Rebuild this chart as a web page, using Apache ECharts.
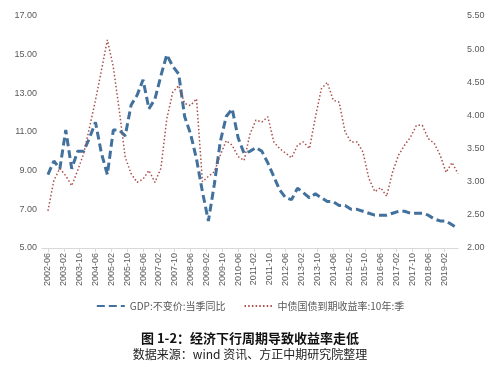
<!DOCTYPE html>
<html>
<head>
<meta charset="utf-8">
<script src="https://cdn.jsdelivr.net/npm/echarts@6/dist/echarts.min.js"></script>
<style>
html,body{margin:0;padding:0;background:#fff;}
#c{width:500px;height:368px;}
</style>
</head>
<body>
<div id="c"></div>
<script>
// Quarterly observations from 2002-06 (Q2) to 2019-09 (Q3)
const gdp = [
  8.8, 9.5, 9.1,
  11.1, 9.1, 10.0, 10.0,
  10.7, 11.5, 9.9, 8.8,
  11.1, 11.1, 10.8, 12.4,
  12.9, 13.7, 12.2, 12.7,
  13.9, 15.0, 14.4, 14.0,
  11.8, 10.9, 9.6, 7.9,
  6.4, 8.3, 10.5, 11.8,
  12.2, 10.7, 9.9, 10.0,
  10.2, 10.0, 9.4, 8.7,
  8.0, 7.6, 7.5, 8.1,
  7.85, 7.6, 7.8, 7.6,
  7.4, 7.4, 7.2, 7.2,
  7.0, 7.0, 6.9, 6.8,
  6.7, 6.7, 6.7, 6.8,
  6.9, 6.9, 6.8, 6.8,
  6.8, 6.7, 6.5, 6.4,
  6.4, 6.2, 6.0
];
const bond10y = [
  2.56, 3.02, 3.20,
  3.09, 2.94, 3.17, 3.42,
  3.82, 4.23, 4.68, 5.14,
  4.73, 4.08, 3.37, 3.12,
  2.99, 3.04, 3.17, 2.99,
  3.20, 3.95, 4.35, 4.45,
  4.18, 4.15, 4.25, 3.00,
  3.08, 3.15, 3.40, 3.62,
  3.55, 3.38, 3.32, 3.72,
  3.93, 3.90, 3.98, 3.60,
  3.50, 3.43, 3.36, 3.55,
  3.60, 3.50, 3.97, 4.40,
  4.50, 4.23, 4.20, 3.75,
  3.60, 3.60, 3.45, 3.05,
  2.85, 2.91, 2.78, 3.15,
  3.40, 3.55, 3.67, 3.85,
  3.85, 3.65, 3.58, 3.40,
  3.14, 3.29, 3.12
];
const seriesNames = ['GDP:不变价:当季同比', '中债国债到期收益率:10年:季'];
const titleText = '图 1-2：经济下行周期导致收益率走低';
const subText = '数据来源：wind 资讯、方正中期研究院整理';
// monthly date axis (starts 3 months before first observation, 2002-06)
const axisStart = [2002, 3];
const leadMonths = 3;
const labelEvery = 8;

const months = [];
const totalMonths = leadMonths + (gdp.length - 1) * 3 + 1;
for (let i = 0; i < totalMonths; i++) {
  const m0 = axisStart[1] - 1 + i;
  const y = axisStart[0] + Math.floor(m0 / 12);
  const m = (m0 % 12) + 1;
  months.push(y + '-' + (m < 10 ? '0' + m : m));
}
function toMonthly(arr) {
  const out = new Array(totalMonths).fill(null);
  arr.forEach((v, k) => { out[leadMonths + 3 * k] = v; });
  return out;
}
const showLabel = (idx) => idx >= leadMonths && (idx - leadMonths) % labelEvery === 0;

const chart = echarts.init(document.getElementById('c'), null, {renderer: 'canvas'});
const txt = '#595959';
const fnt = '"Liberation Sans", Arial, "Noto Sans CJK SC", sans-serif';
const gdpColor = '#41719c';
const bondColor = '#a94f4c';
chart.setOption({
  animation: false,
  backgroundColor: '#fff',
  textStyle: {fontFamily: fnt},
  title: {
    text: titleText,
    subtext: subText,
    left: 'center',
    top: 332,
    itemGap: 3,
    padding: 0,
    textStyle: {fontSize: 13, fontWeight: 'bold', color: '#111', fontFamily: '"Noto Sans CJK SC", sans-serif'},
    subtextStyle: {fontSize: 12, color: '#222', fontFamily: '"Noto Sans CJK SC", sans-serif'}
  },
  legend: {
    top: 296,
    left: 'center',
    itemWidth: 28,
    itemHeight: 10,
    itemGap: 18,
    itemStyle: {opacity: 0},
    textStyle: {fontSize: 10, color: txt, fontFamily: '"Noto Sans CJK SC", sans-serif'},
    data: seriesNames
  },
  grid: {left: 42, right: 42, top: 16, bottom: 120, containLabel: false},
  xAxis: {
    type: 'category',
    data: months,
    boundaryGap: false,
    axisLine: {lineStyle: {color: '#d9d9d9', width: 1}},
    axisTick: {show: true, interval: (i) => showLabel(i), length: 4, lineStyle: {color: '#d9d9d9'}},
    axisLabel: {interval: (i) => showLabel(i), rotate: 90, fontSize: 9, color: txt, margin: 5},
    splitLine: {show: false}
  },
  yAxis: [
    {
      type: 'value', min: 5, max: 17, interval: 2,
      axisLine: {show: false}, axisTick: {show: false}, splitLine: {show: false},
      axisLabel: {fontSize: 9, color: txt, margin: 5, formatter: (v) => v.toFixed(2)}
    },
    {
      type: 'value', min: 2, max: 5.5, interval: 0.5,
      axisLine: {show: false}, axisTick: {show: false}, splitLine: {show: false},
      axisLabel: {fontSize: 9, color: txt, margin: 9, formatter: (v) => v.toFixed(2)}
    }
  ],
  series: [
    {
      name: seriesNames[0], type: 'line', yAxisIndex: 0,
      data: toMonthly(gdp), connectNulls: true, showSymbol: false, symbol: 'none',
      lineStyle: {color: gdpColor, width: 3, type: [8, 4]},
      itemStyle: {color: gdpColor}
    },
    {
      name: seriesNames[1], type: 'line', yAxisIndex: 1,
      data: toMonthly(bond10y), connectNulls: true, showSymbol: false, symbol: 'none',
      lineStyle: {color: bondColor, width: 1.5, type: [1.5, 2.2]},
      itemStyle: {color: bondColor}
    }
  ]
});
</script>
</body>
</html>
